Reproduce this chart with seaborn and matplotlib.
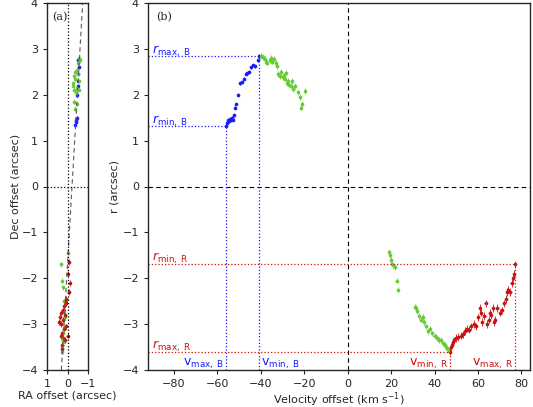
import numpy as np
import pandas as pd
import matplotlib
matplotlib.use("Agg")
import matplotlib.pyplot as plt
import seaborn as sns

sns.set_style("ticks")
plt.rcParams['font.family'] = ['DejaVu Sans']

# Panel (b): velocity offset vs r
blue_v = [-56, -55.5, -55, -54.5, -54, -53.8, -53.2, -52.8, -52.5, -52, -51.5, -50.5, -49.5, -48.8, -47.8, -47, -46.5, -45.5, -44.5, -43.5, -42.8, -41.5, -41]
blue_r = [1.32, 1.38, 1.45, 1.42, 1.48, 1.45, 1.5, 1.45, 1.55, 1.72, 1.8, 2.0, 2.25, 2.28, 2.35, 2.45, 2.47, 2.5, 2.6, 2.65, 2.62, 2.75, 2.85]
gu_v = [-40, -39, -38, -37.5, -37, -36, -35.5, -35, -34, -33, -32.5, -32, -31, -30.5, -30, -29.5, -29, -28.5, -28, -27.5, -27, -26, -25.5, -25, -24.5, -23, -22, -21.5, -21, -19.5]
gu_r = [2.85, 2.82, 2.78, 2.72, 2.7, 2.75, 2.8, 2.72, 2.78, 2.7, 2.62, 2.45, 2.4, 2.5, 2.38, 2.42, 2.35, 2.48, 2.25, 2.3, 2.22, 2.2, 2.3, 2.12, 2.2, 2.05, 1.95, 1.72, 1.8, 2.08]
gl_v = [19, 19.5, 20, 20.5, 21, 22, 22.5, 23, 31, 31.5, 32, 33, 34, 34.5, 35, 36, 37, 38, 39, 40, 41, 42, 43, 44, 45, 45.5, 46, 46.5]
gl_r = [-1.42, -1.5, -1.6, -1.68, -1.72, -1.75, -2.05, -2.25, -2.62, -2.65, -2.72, -2.82, -2.9, -2.85, -2.95, -3.05, -3.15, -3.1, -3.2, -3.25, -3.3, -3.35, -3.35, -3.42, -3.45, -3.5, -3.55, -3.58]
red_v = [47, 47.5, 48, 48.5, 49, 50, 51, 52, 53, 54, 55, 56, 57, 58, 59, 60, 61, 61.5, 62, 63, 63.5, 64, 65, 65.5, 66, 67, 67.5, 68, 69, 70, 71, 72, 73, 73.5, 74, 75, 75.5, 76, 76.5, 77]
red_r = [-3.6, -3.5, -3.45, -3.38, -3.35, -3.3, -3.28, -3.25, -3.22, -3.15, -3.1, -3.12, -3.05, -3.0, -3.05, -2.85, -2.65, -2.75, -2.95, -2.82, -2.55, -3.0, -2.9, -2.75, -2.8, -2.65, -2.95, -2.9, -2.65, -2.75, -2.7, -2.55, -2.45, -2.3, -2.25, -2.3, -2.1, -2.0, -1.9, -1.7]

# Panel (a): RA vs Dec offsets
blue_ra = [-0.38, -0.4, -0.42, -0.45, -0.48, -0.5, -0.5, -0.52, -0.55, -0.52]
blue_dec = [1.35, 1.4, 1.45, 1.5, 2.0, 2.2, 2.3, 2.45, 2.6, 2.75]
gu_ra = [-0.55, -0.6, -0.5, -0.45, -0.35, -0.3, -0.28, -0.32, -0.4, -0.45, -0.55, -0.58, -0.5, -0.38, -0.25, -0.3, -0.35, -0.45]
gu_dec = [2.8, 2.75, 2.7, 2.55, 2.5, 2.4, 2.2, 2.1, 2.05, 2.15, 2.1, 2.3, 2.45, 2.35, 2.25, 1.85, 1.7, 1.8]
gl_ra = [0.0, 0.3, 0.28, 0.2, 0.18, 0.15, 0.1, 0.2, 0.15, 0.2, 0.25, 0.22, 0.2, 0.25, 0.28]
gl_dec = [-1.45, -1.7, -2.05, -2.2, -2.5, -2.7, -2.85, -3.0, -3.1, -3.2, -3.3, -3.35, -3.4, -3.5, -3.6]
red_ra = [-0.05, 0.0, -0.1, -0.05, 0.05, 0.1, 0.15, 0.2, 0.3, 0.35, 0.4, 0.3, 0.2, 0.1, 0.05, 0.15, 0.25, 0.3, 0.2, 0.1, 0.0, 0.05, 0.25, 0.28]
red_dec = [-1.65, -1.9, -2.1, -2.3, -2.45, -2.5, -2.6, -2.7, -2.75, -2.85, -2.95, -3.0, -2.9, -2.8, -3.05, -3.1, -3.2, -3.25, -3.3, -3.35, -3.25, -2.55, -3.45, -3.55]

BLUE = "#1a1aff"; GREEN = "#66cc33"; RED = "#cc1111"

fig = plt.figure(figsize=(5.33, 4.07), dpi=100)
axa = fig.add_axes([47/533, 37/407, 41/533, 367/407])
axb = fig.add_axes([148/533, 37/407, 382/533, 367/407])

def pts(ax, x, y, c, xe=0, ye=0.04):
    ax.errorbar(x, y, xerr=xe, yerr=ye, fmt='none', ecolor=c, elinewidth=0.6, capsize=0)
    sns.scatterplot(x=x, y=y, ax=ax, color=c, s=7, edgecolor=c, linewidth=0, legend=False)

# Panel (a)
pts(axa, blue_ra, blue_dec, BLUE, 0.02, 0.03)
pts(axa, gu_ra, gu_dec, GREEN, 0.05, 0.05)
pts(axa, gl_ra, gl_dec, GREEN, 0.05, 0.05)
pts(axa, red_ra, red_dec, RED, 0.06, 0.06)
axa.plot([0.3, -0.74], [-4, 4], ls=(0, (4, 3)), color='0.35', lw=0.8)
axa.axhline(0, color='k', ls=':', lw=0.9)
axa.axvline(0, color='k', ls=':', lw=0.9)
axa.set_xlim(1, -1); axa.set_ylim(-4, 4)
axa.set_xticks([1, 0, -1]); axa.set_xticklabels(['1', '0', '−1'])
axa.set_yticks(range(-4, 5))
axa.set_yticklabels([str(t).replace('-', '−') for t in range(-4, 5)])
axa.set_xlabel("RA offset (arcsec)", fontsize=8, labelpad=1)
axa.set_ylabel("Dec offset (arcsec)", fontsize=8, labelpad=1)
axa.text(0.12, 0.975, "(a)", transform=axa.transAxes, fontsize=8, va='top', family='serif')

# Panel (b)
pts(axb, blue_v, blue_r, BLUE, 0.3, 0.03)
pts(axb, gu_v, gu_r, GREEN, 0.5, 0.06)
pts(axb, gl_v, gl_r, GREEN, 0.5, 0.06)
pts(axb, red_v, red_r, RED, 0.5, 0.08)
axb.axhline(0, color='k', ls=(0, (4, 3)), lw=0.8)
axb.axvline(0, color='k', ls=(0, (4, 3)), lw=0.8)
x0 = -92
for v, r, c in [(-41, 2.85, BLUE), (-56, 1.32, BLUE), (47, -3.6, RED), (77, -1.7, RED)]:
    axb.plot([x0, v], [r, r], ls=':', color=c, lw=0.9)
    axb.plot([v, v], [-4, r], ls=':', color=c, lw=0.9)
axb.text(-90, 2.9, r"$r_{\rm max,\ B}$", color=BLUE, fontsize=9)
axb.text(-90, 1.37, r"$r_{\rm min,\ B}$", color=BLUE, fontsize=9)
axb.text(-90, -1.63, r"$r_{\rm min,\ R}$", color=RED, fontsize=9)
axb.text(-90, -3.55, r"$r_{\rm max,\ R}$", color=RED, fontsize=9)
axb.text(-57, -3.92, r"v$_{\rm max,\ B}$", color=BLUE, fontsize=9, ha='right')
axb.text(-40, -3.92, r"v$_{\rm min,\ B}$", color=BLUE, fontsize=9, ha='left')
axb.text(46.5, -3.92, r"v$_{\rm min,\ R}$", color=RED, fontsize=9, ha='right')
axb.text(76.5, -3.92, r"v$_{\rm max,\ R}$", color=RED, fontsize=9, ha='right')
axb.set_xlim(-92, 84); axb.set_ylim(-4, 4)
axb.set_xticks(range(-80, 81, 20))
axb.set_xticklabels([str(t).replace('-', '−') for t in range(-80, 81, 20)])
axb.set_yticks(range(-4, 5))
axb.set_yticklabels([str(t).replace('-', '−') for t in range(-4, 5)])
axb.set_xlabel(r"Velocity offset (km s$^{-1}$)", fontsize=8, labelpad=1)
axb.set_ylabel("r (arcsec)", fontsize=8, labelpad=2)
axb.text(0.02, 0.975, "(b)", transform=axb.transAxes, fontsize=8, va='top', family='serif')

for ax in (axa, axb):
    ax.tick_params(labelsize=8, direction='out', length=3)
    for s in ax.spines.values():
        s.set_visible(True); s.set_linewidth(1.0)

fig.savefig("out.png", dpi=100)
